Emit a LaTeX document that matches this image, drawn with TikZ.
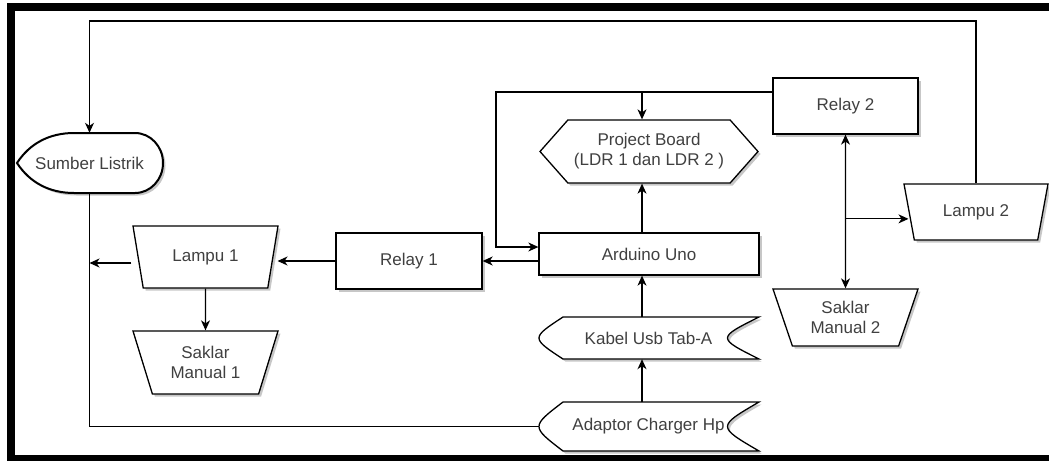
\documentclass[tikz,border=0pt]{standalone}
\usepackage{fontspec}
\setmainfont{Liberation Sans}
\usetikzlibrary{arrows.meta,shapes.geometric,shapes.symbols,shadows,calc}
\begin{document}
\begin{tikzpicture}[x=1pt,y=-1pt,
  font=\fontsize{17}{20}\selectfont,
  shd/.style={drop shadow={shadow xshift=2.5pt,shadow yshift=-2.5pt,fill=black,opacity=0.22}},
  box/.style={draw,line width=1.3pt,fill=white,shd,text=black!75,minimum width=145pt,minimum height=56pt,inner sep=2pt,align=center},
  trap/.style={box,trapezium,trapezium left angle=118,trapezium right angle=118,trapezium stretches body},
  lbl/.style={text=black!75,inner sep=0pt,align=center},
  conn/.style={line width=1.2pt},
  arr/.style={conn,-{Stealth[length=10pt,width=9pt,inset=3pt]}},
  arrr/.style={conn,{Stealth[length=10pt,width=9pt,inset=3pt]}-{Stealth[length=10pt,width=9pt,inset=3pt]}}]
\useasboundingbox (0,0) rectangle (1049,461);
% frame
\fill[black] (7,3) rectangle (1049,11);
\fill[black] (7,3) rectangle (15,461);
\fill[black] (7,455) rectangle (1049,461);

% custom shapes
\draw[line width=2pt,fill=white,shd] (17,163) .. controls (30,143) and (50,133) .. (74,133) -- (135,133)
  .. controls (150.5,133) and (163,146.4) .. (163,163) .. controls (163,179.6) and (150.5,193) .. (135,193)
  -- (74,193) .. controls (50,193) and (30,183) .. (17,163) -- cycle;
\draw[line width=1.3pt,fill=white,shd] (563,317) -- (759,317) .. controls (717,338) .. (759,359) -- (563,359) .. controls (531,338) .. (563,317) -- cycle;
\draw[line width=1.3pt,fill=white,shd] (563,402) -- (759,402) .. controls (717,426.5) .. (759,451) -- (563,451) .. controls (531,426.5) .. (563,402) -- cycle;

\node[lbl,minimum width=147pt,minimum height=60pt] (sumber) at (89.5,163) {Sumber Listrik};
\node[lbl,minimum width=219pt,minimum height=42pt] (kab) at (648.5,338) {Kabel Usb Tab-A};
\node[lbl,minimum width=219pt,minimum height=49pt] (adap) at (648.5,426.5) {Adaptor Charger Hp};

% nodes
\node[box,minimum width=146pt] (r1) at (409,261) {Relay 1};
\node[box,minimum width=220pt,minimum height=42pt] (ard) at (649,254) {Arduino Uno};
\node[box] (r2) at (845.5,106) {Relay 2};
\node[box,signal,signal to=west and east,signal pointer angle=97,minimum width=218pt,minimum height=63pt,inner sep=0pt] (pb) at (649,151.5) {Project Board\\(LDR 1 dan LDR 2 )};
\node[trap,minimum height=62pt] (l1) at (205.5,257) {Lampu 1};
\node[trap,minimum height=63pt] (s1) at (205.5,362.5) {Saklar\\Manual 1};
\node[trap,minimum width=144pt,minimum height=56pt] (l2) at (976,212) {Lampu 2};
\node[trap,minimum height=57pt] (s2) at (845.5,317.5) {Saklar\\Manual 2};

% helper coordinates
\coordinate (top) at (0,21);
\coordinate (loopx) at (496,0);
\coordinate (r2o) at ([yshift=14pt]r2.west);
\coordinate (pbx) at ([xshift=-7pt]pb.north);
\coordinate (br) at ($(r2.south)!0.548!(s2.north)$);
\coordinate (l1a) at ([xshift=-6pt,yshift=-6pt]l1.west);

% connectors
\draw[arr] (l2.north) -- (l2.north |- top) -| (sumber.north);
\draw[conn] (sumber.south) |- (adap.west);
\draw[arr] (l1a) -- (l1a -| sumber.south);
\draw[arr] (l1.south) -- (s1.north);
\draw[arr] (r1.west) -- ([xshift=4pt]r1.west -| l1.east);
\draw[arr] (ard.west |- r1.east) -- (r1.east);
\draw[arr] (r2o) -- (r2o -| loopx) |- ([yshift=7pt]ard.west);
\draw[arr] (r2o -| pbx) -- (pbx);
\draw[arr] ([xshift=-7pt]ard.north) -- ([xshift=-7pt]pb.south);
\draw[arr] ([xshift=-6.5pt]kab.north) -- ([xshift=-7pt]ard.south);
\draw[arr] ([xshift=-6.5pt]adap.north) -- ([xshift=-6.5pt]kab.south);
\draw[arrr] (r2.south) -- (s2.north);
\draw[arr] (br) -- (br -| l2.west);
\end{tikzpicture}
\end{document}
